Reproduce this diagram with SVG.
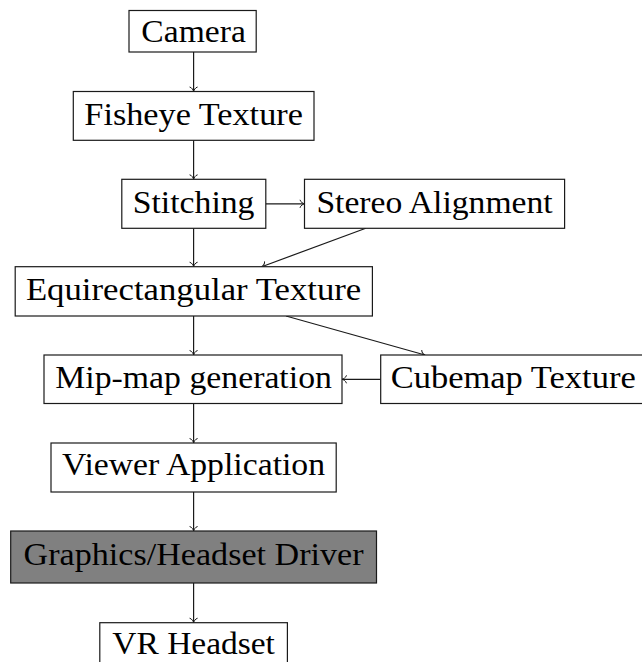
<svg xmlns="http://www.w3.org/2000/svg" width="642" height="662" viewBox="0 0 642 662">
<style>
.box{fill:#fff;stroke:#1a1a1a;stroke-width:1.2}
.dark{fill:#808080;stroke:#1a1a1a;stroke-width:1.2}
.t{font-family:"Liberation Serif","DejaVu Serif",serif;font-size:32px;fill:#000}
.m{text-anchor:middle}
.e{fill:none;stroke:#1a1a1a;stroke-width:1.2}
</style>
<defs>
<marker id="ah" viewBox="-6 -5 7 10" markerWidth="7" markerHeight="10" refX="0" refY="0" orient="auto" markerUnits="userSpaceOnUse">
<path d="M -4.5,-4 C -4,-1.6 -1.2,-0.3 0,0 C -1.2,0.3 -4,1.6 -4.5,4" fill="none" stroke="#1a1a1a" stroke-width="1"/>
</marker>
</defs>
<g id="connectors">
<line class="e" x1="193.6" y1="52" x2="193.6" y2="91.5" marker-end="url(#ah)"/>
<line class="e" x1="193.6" y1="140.3" x2="193.6" y2="179.3" marker-end="url(#ah)"/>
<line class="e" x1="265.8" y1="203.8" x2="304.5" y2="203.8" marker-end="url(#ah)"/>
<line class="e" x1="193.6" y1="228.3" x2="193.6" y2="266.7" marker-end="url(#ah)"/>
<line class="e" x1="365.8" y1="228.3" x2="261.7" y2="266.7" marker-end="url(#ah)"/>
<line class="e" x1="286" y1="316" x2="425" y2="355" marker-end="url(#ah)"/>
<line class="e" x1="193.6" y1="316" x2="193.6" y2="355" marker-end="url(#ah)"/>
<line class="e" x1="380.7" y1="379.3" x2="342" y2="379.3" marker-end="url(#ah)"/>
<line class="e" x1="193.6" y1="403.5" x2="193.6" y2="443" marker-end="url(#ah)"/>
<line class="e" x1="193.6" y1="492" x2="193.6" y2="531" marker-end="url(#ah)"/>
<line class="e" x1="193.6" y1="583" x2="193.6" y2="622.7" marker-end="url(#ah)"/>
</g>
<g id="camera">
<rect class="box" x="129" y="10.5" width="127.2" height="41.5"/>
<text class="t m" x="193.6" y="41.5" textLength="104.5" lengthAdjust="spacingAndGlyphs">Camera</text>
</g>
<g id="fisheye">
<rect class="box" x="73.3" y="91.5" width="240.7" height="48.8"/>
<text class="t m" x="193.6" y="125" textLength="218.5" lengthAdjust="spacingAndGlyphs">Fisheye Texture</text>
</g>
<g id="stitching">
<rect class="box" x="121.8" y="179.3" width="144" height="49"/>
<text class="t m" x="193.6" y="212.5" textLength="121.8" lengthAdjust="spacingAndGlyphs">Stitching</text>
</g>
<g id="stereo">
<rect class="box" x="304.5" y="179.3" width="260.1" height="49"/>
<text class="t m" x="434.5" y="212.5" textLength="236.2" lengthAdjust="spacingAndGlyphs">Stereo Alignment</text>
</g>
<g id="equirect">
<rect class="box" x="15.2" y="266.7" width="357.2" height="49.3"/>
<text class="t m" x="193.6" y="300" textLength="335.4" lengthAdjust="spacingAndGlyphs">Equirectangular Texture</text>
</g>
<g id="mipmap">
<rect class="box" x="44" y="355" width="298" height="48.5"/>
<text class="t m" x="193.6" y="387.5" textLength="276.6" lengthAdjust="spacingAndGlyphs">Mip-map generation</text>
</g>
<g id="cubemap">
<rect class="box" x="380.7" y="355" width="268" height="48.5"/>
<text class="t" x="390.7" y="387.5" textLength="245" lengthAdjust="spacingAndGlyphs">Cubemap Texture</text>
</g>
<g id="viewer">
<rect class="box" x="51" y="443" width="285.2" height="49"/>
<text class="t m" x="193.6" y="475" textLength="263" lengthAdjust="spacingAndGlyphs">Viewer Application</text>
</g>
<g id="driver">
<rect class="dark" x="10.7" y="531" width="365.8" height="52"/>
<text class="t m" x="193.6" y="564.5" textLength="340" lengthAdjust="spacingAndGlyphs">Graphics/Headset Driver</text>
</g>
<g id="vrheadset">
<rect class="box" x="99.8" y="622.7" width="187.6" height="45"/>
<text class="t m" x="193.6" y="654" textLength="162.6" lengthAdjust="spacingAndGlyphs">VR Headset</text>
</g>
</svg>
